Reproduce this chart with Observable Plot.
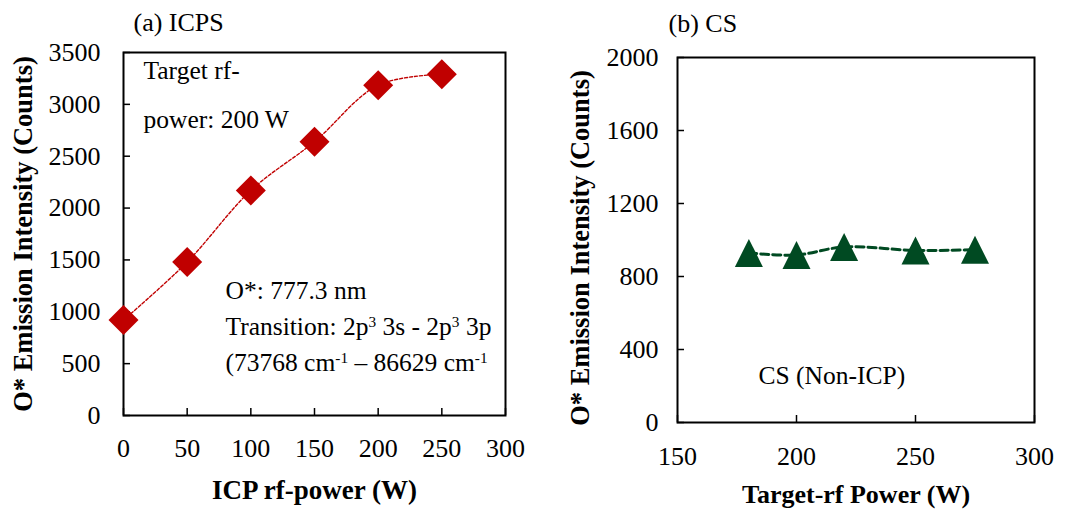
<!DOCTYPE html>
<html>
<head>
<meta charset="utf-8">
<script src="https://cdn.jsdelivr.net/npm/d3@7"></script>
<script src="https://cdn.jsdelivr.net/npm/@observablehq/plot@0.6"></script>
<style>
  html, body { margin: 0; padding: 0; background: #fff; }
  #wrap { display: flex; width: 1089px; height: 512px; }
  #wrap svg, #wrap svg text { font-family: "Liberation Serif", "DejaVu Serif", serif !important; }
</style>
</head>
<body>
<div id="wrap"></div>
<script>
// ---- data ----
const icpPower = [0, 50, 100, 150, 200, 250];
const icpIntensity = [920, 1480, 2170, 2640, 3185, 3290];
const targetPower = [180, 200, 220, 250, 275];
const csIntensity = [929, 918, 962, 943, 947];

const xTicksA = [0, 50, 100, 150, 200, 250, 300];
const yTicksA = [0, 500, 1000, 1500, 2000, 2500, 3000, 3500];
const xTicksB = [150, 200, 250, 300];
const yTicksB = [0, 400, 800, 1200, 1600, 2000];

const titleA = "(a) ICPS";
const titleB = "(b) CS";
const yLabel = "O* Emission Intensity (Counts)";
const xLabelA = "ICP rf-power (W)";
const xLabelB = "Target-rf Power (W)";
const notesTopA = ["Target rf-", "power: 200 W"];
const notesBottomA = ["O*: 777.3 nm", "Transition: 2p^3 3s - 2p^3 3p", "(73768 cm^-1 – 86629 cm^-1"];
const noteB = "CS (Non-ICP)";

const dataA = icpPower.map((p, i) => ({x: p, y: icpIntensity[i]}));
const dataB = targetPower.map((p, i) => ({x: p, y: csIntensity[i]}));

const RED = "#C00000";
const GREEN = "#004a22";
const FONT = "Liberation Serif";

const diamondSym = {draw(ctx, size) { const h = Math.sqrt(size) / 2;
  ctx.moveTo(0, -h); ctx.lineTo(h, 0); ctx.lineTo(0, h); ctx.lineTo(-h, 0); ctx.closePath(); }};
const triangleSym = {draw(ctx, size) { const h = Math.sqrt(size) / 2;
  ctx.moveTo(0, -h); ctx.lineTo(h, h); ctx.lineTo(-h, h); ctx.closePath(); }};

const style = {fontFamily: FONT, fontSize: "26px", background: "white", overflow: "visible", color: "black"};

function noteMarks(lines, dx, dy0, step) {
  return lines.map((t, i) => Plot.text([t], {text: d => d, frameAnchor: "top-left", textAnchor: "start", lineAnchor: "middle", dx, dy: dy0 + i * step, fontSize: 25.5, fontFamily: FONT}));
}

function panel(cfg) {
  const fw = cfg.width - cfg.ml - cfg.mr, fh = cfg.height - cfg.mt - cfg.mb;
  return Plot.plot({
    width: cfg.width, height: cfg.height,
    marginLeft: cfg.ml, marginRight: cfg.mr, marginTop: cfg.mt, marginBottom: cfg.mb,
    x: {domain: cfg.xd}, y: {domain: cfg.yd},
    style,
    marks: [
      Plot.tickY(cfg.yt, {y: d => d, insetRight: fw - 7, stroke: "black", strokeWidth: 1.5}),
      Plot.tickX(cfg.xt, {x: d => d, insetTop: fh - 7, stroke: "black", strokeWidth: 1.5}),
      Plot.axisY({ticks: cfg.yt, tickFormat: d => String(d), tickSize: 0, tickPadding: cfg.ypad, label: null, fontSize: 26, fontFamily: FONT, fill: "black"}),
      Plot.axisX({ticks: cfg.xt, tickFormat: d => String(d), tickSize: 0, tickPadding: cfg.xpad, label: null, fontSize: 26, fontFamily: FONT, fill: "black"}),
      Plot.frame({stroke: "black", strokeWidth: 2}),
      ...cfg.dataMarks,
      Plot.text([cfg.title], {text: d => d, frameAnchor: "top-left", textAnchor: "start", lineAnchor: "middle", dx: cfg.titleDx, dy: cfg.titleDy, fontSize: 26, fontFamily: FONT}),
      Plot.text([yLabel], {text: d => d, frameAnchor: "left", textAnchor: "middle", lineAnchor: "middle", rotate: -90, dx: cfg.ylDx, dy: cfg.ylDy, fontSize: 26.5, fontWeight: "bold", fontFamily: FONT}),
      Plot.text([cfg.xLabel], {text: d => d, frameAnchor: "bottom", textAnchor: "middle", lineAnchor: "middle", dy: cfg.xlDy, fontSize: cfg.xlFs, fontWeight: "bold", fontFamily: FONT}),
      ...cfg.notes
    ]
  });
}

const plotA = panel({
  width: 544, height: 512, ml: 123, mr: 39, mt: 52, mb: 97,
  xd: [0, 300], yd: [0, 3500], xt: xTicksA, yt: yTicksA, ypad: 23, xpad: 23.5,
  title: titleA, titleDx: 10, titleDy: -29.5, ylDx: -100, ylDy: 0,
  xLabel: xLabelA, xlDy: 74.5, xlFs: 27,
  dataMarks: [
    Plot.line(dataA, {x: "x", y: "y", curve: "catmull-rom", stroke: RED, strokeWidth: 1.4, strokeDasharray: "3,2"}),
    Plot.dot(dataA, {x: "x", y: "y", symbol: diamondSym, r: 30 / Math.sqrt(Math.PI), fill: RED, stroke: "none"})
  ],
  notes: [...noteMarks(notesTopA, 20, 18, 49), ...noteMarks(notesBottomA, 102, 238, 36)]
});

const plotB = panel({
  width: 545, height: 512, ml: 133, mr: 55, mt: 57, mb: 90,
  xd: [150, 300], yd: [0, 2000], xt: xTicksB, yt: yTicksB, ypad: 19, xpad: 24.5,
  title: titleB, titleDx: -9, titleDy: -33.5, ylDx: -97, ylDy: 8,
  xLabel: xLabelB, xlDy: 72.5, xlFs: 26,
  dataMarks: [
    Plot.line(dataB, {x: "x", y: "y", curve: "catmull-rom", stroke: GREEN, strokeWidth: 3, strokeDasharray: "8,4"}),
    Plot.dot(dataB, {x: "x", y: "y", symbol: triangleSym, r: 28 / Math.sqrt(Math.PI), fill: GREEN, stroke: "none"})
  ],
  notes: noteMarks([noteB], 81, 318, 0)
});

const wrap = document.getElementById("wrap");
wrap.appendChild(plotA);
wrap.appendChild(plotB);

// superscripts: turn "^x" into raised tspans
const NS = "http://www.w3.org/2000/svg";
wrap.querySelectorAll("text").forEach(t => {
  if (!t.textContent.includes("^")) return;
  const parts = t.textContent.split(/\^(-?\d+)/);
  t.textContent = "";
  parts.forEach((p, i) => {
    const ts = document.createElementNS(NS, "tspan");
    ts.textContent = p;
    if (i % 2) { ts.setAttribute("baseline-shift", "super"); ts.setAttribute("font-size", "60%"); }
    t.appendChild(ts);
  });
});
</script>
</body>
</html>
